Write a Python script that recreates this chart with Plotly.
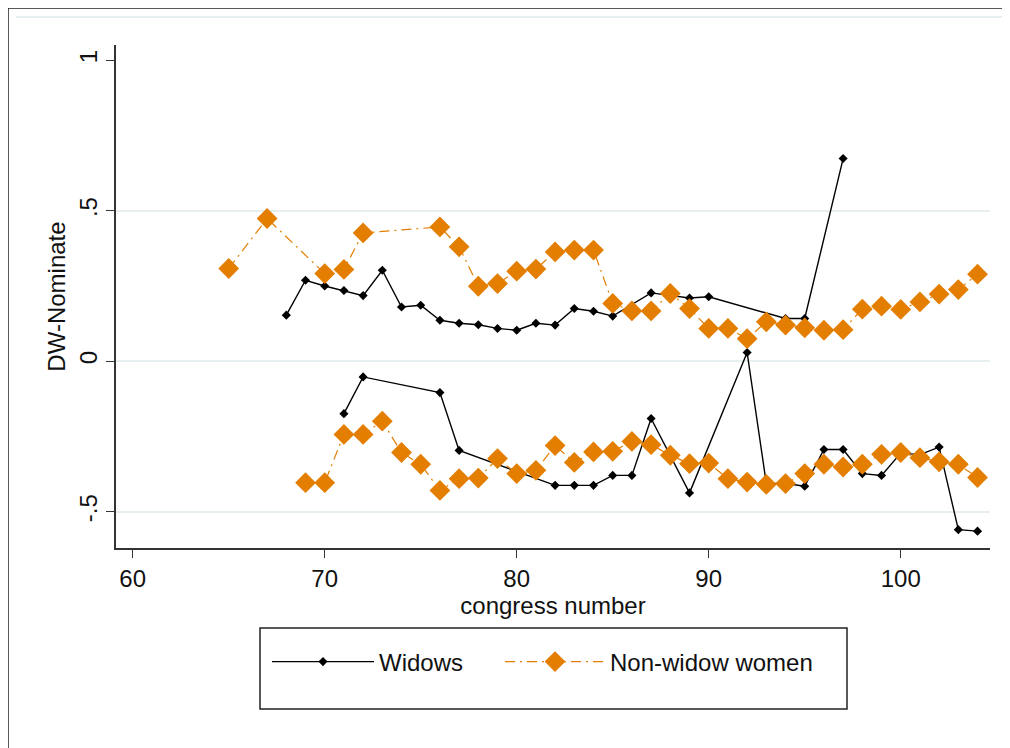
import plotly.graph_objects as go

# ---- data ----
widows_r_congress = [68, 69, 70, 71, 72, 73, 74, 75, 76, 77, 78, 79, 80, 81, 82, 83, 84, 85, 87, 89, 90, 94, 95, 97]
widows_r_score = [0.153, 0.269, 0.25, 0.235, 0.218, 0.302, 0.18, 0.186, 0.136, 0.126, 0.121, 0.109,
                  0.103, 0.126, 0.12, 0.175, 0.166, 0.15, 0.227, 0.21, 0.214, 0.142, 0.142, 0.673]

widows_d_congress = [71, 72, 76, 77, 82, 83, 84, 85, 86, 87, 89, 92, 93, 94, 95, 96, 97, 98, 99, 100, 101, 102, 103, 104]
widows_d_score = [-0.174, -0.052, -0.104, -0.296, -0.412, -0.412, -0.412, -0.379, -0.379, -0.19, -0.437,
                  0.029, -0.406, -0.406, -0.415, -0.293, -0.293, -0.373, -0.379, -0.305, -0.31, -0.285,
                  -0.559, -0.564]

nonwidow_r_congress = [65, 67, 70, 71, 72, 76, 77, 78, 79, 80, 81, 82, 83, 84, 85, 86, 87, 88, 89, 90,
                       91, 92, 93, 94, 95, 96, 97, 98, 99, 100, 101, 102, 103, 104]
nonwidow_r_score = [0.308, 0.474, 0.291, 0.305, 0.426, 0.446, 0.38, 0.249, 0.258, 0.299, 0.306, 0.363,
                    0.369, 0.369, 0.192, 0.167, 0.167, 0.225, 0.175, 0.109, 0.109, 0.075, 0.131, 0.12,
                    0.111, 0.103, 0.105, 0.173, 0.183, 0.172, 0.197, 0.223, 0.238, 0.289]

nonwidow_d_congress = [69, 70, 71, 72, 73, 74, 75, 76, 77, 78, 79, 80, 81, 82, 83, 84, 85, 86, 87, 88,
                       89, 90, 91, 92, 93, 94, 95, 96, 97, 98, 99, 100, 101, 102, 103, 104]
nonwidow_d_score = [-0.403, -0.403, -0.243, -0.243, -0.199, -0.303, -0.342, -0.429, -0.39, -0.388,
                    -0.323, -0.373, -0.362, -0.28, -0.336, -0.301, -0.299, -0.266, -0.277, -0.312,
                    -0.34, -0.338, -0.39, -0.401, -0.409, -0.406, -0.373, -0.342, -0.351, -0.342,
                    -0.309, -0.303, -0.32, -0.334, -0.342, -0.386]

x_tick_vals = [60, 70, 80, 90, 100]
y_tick_vals = [-0.5, 0, 0.5, 1]
y_tick_text = ["-.5", "0", ".5", "1"]
y_grid_vals = [-0.5, 0, 0.5]

series_names = ["Widows", "Non-widow women"]

# ---- styles ----
FONT = "Liberation Sans, Arial, sans-serif"
BLACK = "#000000"
ORANGE = "#E37E00"
AXIS = "#333333"
GRID = "#E6EEF0"

widow_line = dict(color=BLACK, width=1.4)
widow_marker = dict(symbol="diamond", size=7, color=BLACK)
nonw_line = dict(color=ORANGE, width=1.2, dash="10px,5px,2px,5px")
nonw_marker = dict(symbol="diamond", size=16, color=ORANGE)

fig = go.Figure()
fig.add_trace(go.Scatter(x=widows_r_congress, y=widows_r_score, mode="lines+markers",
                         line=widow_line, marker=widow_marker, name=series_names[0],
                         legendgroup="w", showlegend=True, legend="legend"))
fig.add_trace(go.Scatter(x=widows_d_congress, y=widows_d_score, mode="lines+markers",
                         line=widow_line, marker=widow_marker, name=series_names[0],
                         legendgroup="w", showlegend=False, legend="legend"))
fig.add_trace(go.Scatter(x=nonwidow_r_congress, y=nonwidow_r_score, mode="lines+markers",
                         line=nonw_line, marker=nonw_marker, name=series_names[1],
                         legendgroup="n", showlegend=True, legend="legend2"))
fig.add_trace(go.Scatter(x=nonwidow_d_congress, y=nonwidow_d_score, mode="lines+markers",
                         line=nonw_line, marker=nonw_marker, name=series_names[1],
                         legendgroup="n", showlegend=False, legend="legend2"))

# page offset of the figure (browser body margin)
OFF = 8
# plot area in page pixels
PL, PT, PR, PB = 116, 45, 990, 548
W, H = 1010, 748
L, T = PL - OFF, PT - OFF
PW, PH = PR - PL, PB - PT
R = W - L - PW
B = H - T - PH


def px(xp):
    return (xp - PL) / PW


def py(yp):
    return (PB - yp) / PH


legend_common = dict(orientation="h", yanchor="middle", xanchor="left", font=dict(size=24),
                     bgcolor="rgba(0,0,0,0)", borderwidth=0, itemclick=False, itemdoubleclick=False)

fig.update_layout(
    width=W, height=H,
    margin=dict(l=L, r=R, t=T, b=B),
    paper_bgcolor="white", plot_bgcolor="white",
    font=dict(family=FONT, size=24, color="#111111"),
    legend=dict(x=px(267), y=py(662), itemwidth=102, **legend_common),
    legend2=dict(x=px(500), y=py(662), itemwidth=100, **legend_common),
    xaxis=dict(range=[59.13, 104.65], tickvals=x_tick_vals, ticks="outside", ticklen=8,
               tickwidth=1.3, tickcolor=AXIS, showline=True, linecolor=AXIS, linewidth=1.5,
               showgrid=False, zeroline=False,
               title=dict(text="congress number", standoff=0, font=dict(size=24))),
    yaxis=dict(range=[-0.62, 1.05], tickvals=y_tick_vals, ticktext=y_tick_text, tickangle=-90,
               ticks="outside", ticklen=8, tickwidth=1.3, tickcolor=AXIS, showline=True,
               linecolor=AXIS, linewidth=1.5, showgrid=False, zeroline=False,
               minor=dict(tickvals=y_grid_vals, showgrid=True, gridcolor=GRID, gridwidth=1.5, ticks=""),
               title=dict(text="DW-Nominate", standoff=2, font=dict(size=24))),
    shapes=[
        # outer frame of the graph
        dict(type="line", xref="paper", yref="paper", x0=px(8), x1=px(1020), y0=py(8), y1=py(8),
             line=dict(color="#222222", width=1.5)),
        dict(type="line", xref="paper", yref="paper", x0=px(8), x1=px(8), y0=py(8), y1=py(760),
             line=dict(color="#222222", width=1.5)),
        dict(type="line", xref="paper", yref="paper", x0=px(16), x1=px(1020), y0=py(17), y1=py(17),
             line=dict(color=GRID, width=2)),
        # legend box
        dict(type="rect", xref="paper", yref="paper", x0=px(260), x1=px(847), y0=py(628), y1=py(709),
             line=dict(color="#222222", width=1.5), fillcolor="rgba(0,0,0,0)"),
    ],
)

fig.write_html("out.html")
